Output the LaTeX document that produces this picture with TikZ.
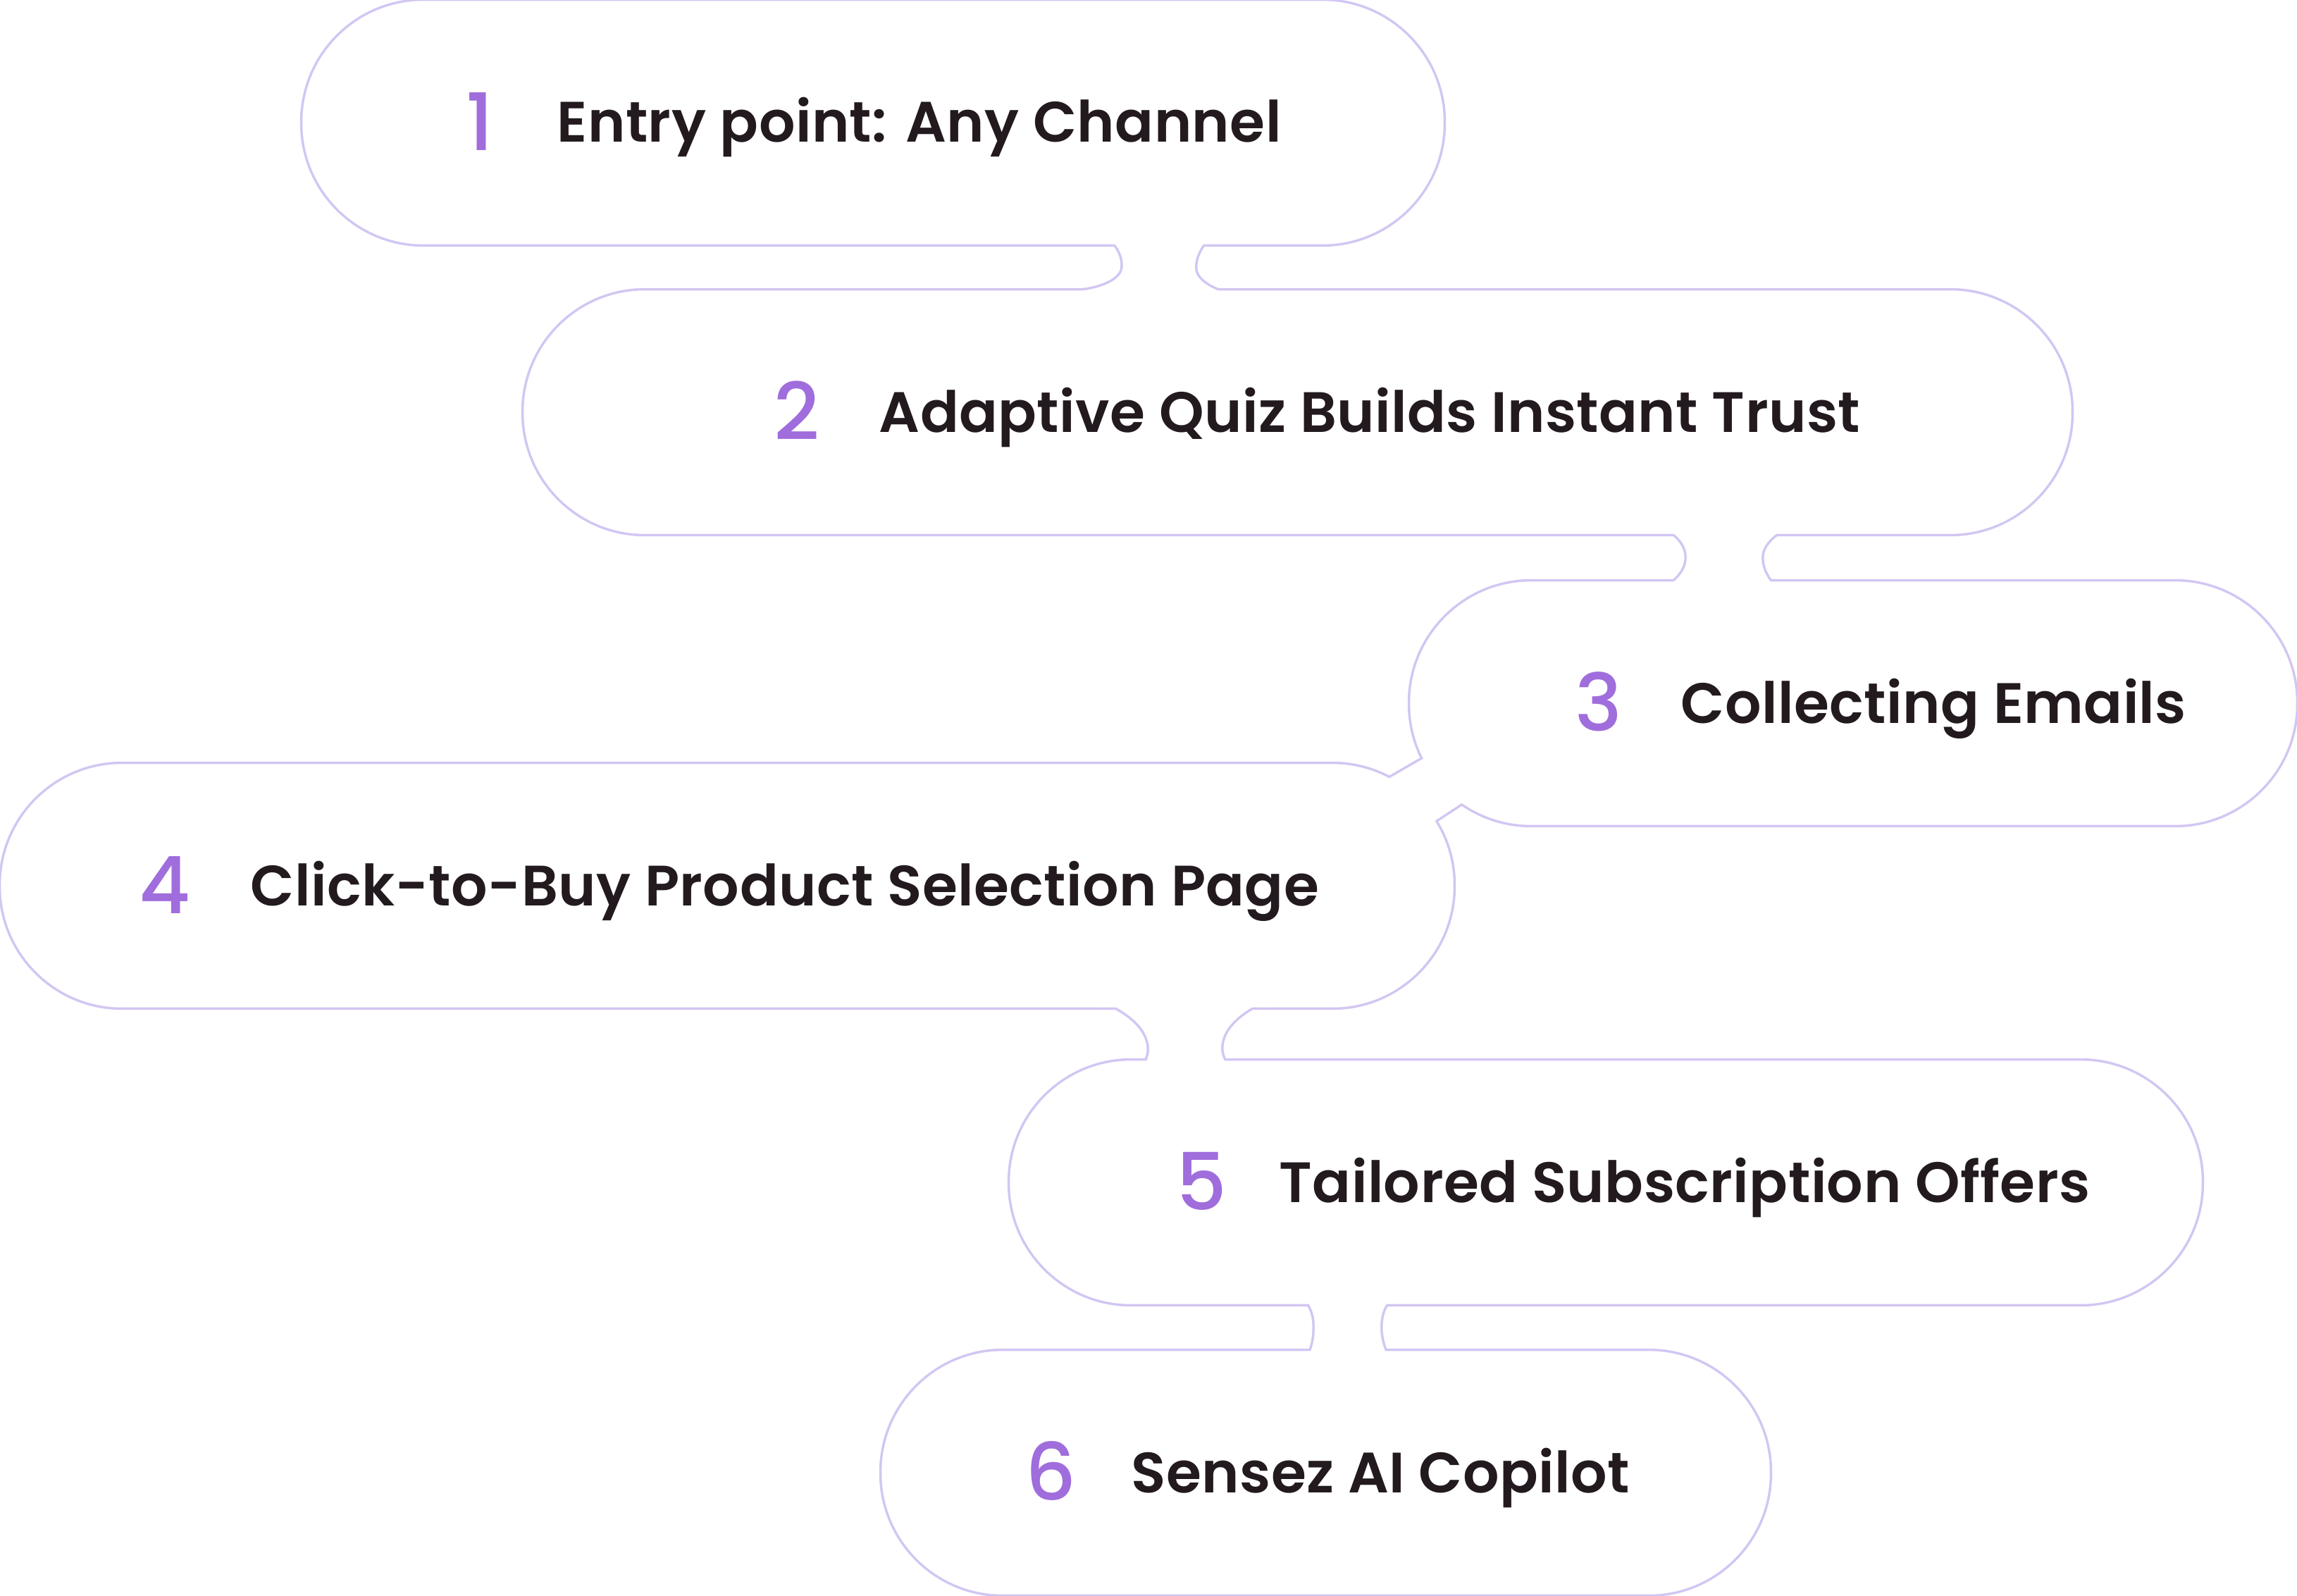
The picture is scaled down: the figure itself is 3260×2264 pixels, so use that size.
\documentclass[tikz,border=0pt]{standalone}
\usepackage{fontspec}
\setmainfont{Poppins}
\IfFontExistsTF{Poppins Medium}{\newfontfamily\numfont{Poppins Medium}}{\newfontfamily\numfont{Poppins}}
\IfFontExistsTF{Poppins SemiBold}{\newfontfamily\stepfont{Poppins SemiBold}[LetterSpace=0.6]}{\newfontfamily\stepfont{Poppins}[FakeBold=0.5]}
\definecolor{cRim}{HTML}{D2C6F3}
\definecolor{cNum}{HTML}{A06DDC}
\definecolor{cText}{HTML}{221A1E}
\pgfdeclarelayer{rim}
\pgfdeclarelayer{face}
\pgfsetlayers{rim,face,main}
\tikzset{
  pill/.style={rectangle, minimum height=34.4mm, inner sep=0pt},
  num/.style={anchor=west, inner sep=0pt, text height=7.9mm, text depth=0pt,
              font=\numfont\fontsize{32}{32}\selectfont, text=cNum},
  lbl/.style={anchor=west, inner sep=0pt, text height=5.6mm, text depth=0pt,
              font=\stepfont\fontsize{23}{24}\selectfont, text=cText},
  rimline/.style={draw=cRim, line width=2pt, line join=round},
  facefill/.style={fill=white}
}
% pills plus the necks between them; drawn twice (wide rim, then white face)
\newcommand{\pillshapes}[1]{%
  \foreach \p in {p1,p2,p3,p4,p5,p6}
    \path[#1, rounded corners=17.2mm] (\p.south west) rectangle (\p.north east);
  % neck 1-2
  \path[#1] (1560,346) -- (1582,346) .. controls (1590,355) and (1596,370) .. (1593,383)
    .. controls (1588,400) and (1560,410) .. (1532,413) -- (1510,413) -- (1510,440)
    -- (1755,440) -- (1755,413) -- (1730,413) .. controls (1712,406) and (1697,395) .. (1696,382)
    .. controls (1695,368) and (1701,356) .. (1708,346) -- (1730,346) -- (1730,320) -- (1560,320) -- cycle;
  % neck 2-3
  \path[#1] (2350,757) -- (2375,757) .. controls (2388,767) and (2394,779) .. (2394,791)
    .. controls (2394,804) and (2387,816) .. (2375,826) -- (2350,826) -- (2350,850)
    -- (2540,850) -- (2540,826) -- (2513,826) .. controls (2505,816) and (2500,804) .. (2500,791)
    .. controls (2500,779) and (2508,767) .. (2522,757) -- (2540,757) -- (2540,730) -- (2350,730) -- cycle;
  % neck 3-4
  \path[#1] (2023,1075) -- (1971,1105) -- (2036,1165) -- (2077,1138) -- cycle;
  % neck 4-5
  \path[#1] (1560,1429) -- (1583,1429) .. controls (1612,1445) and (1631,1465) .. (1631,1490)
    .. controls (1631,1496) and (1629,1501) .. (1627,1506) -- (1610,1506) -- (1610,1530)
    -- (1760,1530) -- (1760,1506) -- (1738,1506) .. controls (1735,1500) and (1733,1495) .. (1733,1488)
    .. controls (1733,1465) and (1750,1445) .. (1778,1429) -- (1800,1429) -- (1800,1400) -- (1560,1400) -- cycle;
  % neck 5-6
  \path[#1] (1835,1850) -- (1857,1850) .. controls (1864,1860) and (1866,1872) .. (1866,1884)
    .. controls (1866,1896) and (1864,1908) .. (1860,1918) -- (1835,1918) -- (1835,1945)
    -- (1990,1945) -- (1990,1918) -- (1966,1918) .. controls (1962,1908) and (1959,1896) .. (1959,1884)
    .. controls (1959,1872) and (1961,1860) .. (1968,1850) -- (1990,1850) -- (1990,1825) -- (1835,1825) -- cycle;
}

\begin{document}
\begin{tikzpicture}[x=0.1mm, y=-0.1mm]
\useasboundingbox (0,0) rectangle (3260,2264);
% pills
\node[pill, minimum width=161.8mm] (p1) at (1239,174) {};
\node[pill, minimum width=219.5mm] (p2) at (1841.5,585) {};
\node[pill, minimum width=125.6mm] (p3) at (2630,998) {};
\node[pill, minimum width=206mm] (p4) at (1032,1257) {};
\node[pill, minimum width=169mm] (p5) at (2279,1678) {};
\node[pill, minimum width=125.9mm] (p6) at (1881.5,2090) {};
% numbers and labels
\node[num] (n1) at (661,174) {1};
\node[lbl] (t1) at (790,174) {Entry point: Any Channel};
\node[num] (n2) at (1098,585) {2};
\node[lbl] (t2) at (1247,585) {Adaptive Quiz Builds Instant Trust};
\node[num] (n3) at (2235,998) {3};
\node[lbl] (t3) at (2385,998) {Collecting Emails};
\node[num] (n4) at (197,1257) {4};
\node[lbl] (t4) at (355,1257) {Click-to-Buy Product Selection Page};
\node[num] (n5) at (1669,1678) {5};
\node[lbl] (t5) at (1815,1678) {Tailored Subscription Offers};
\node[num] (n6) at (1455,2090) {6};
\node[lbl] (t6) at (1605,2090) {Sensez AI Copilot};
% outline of the whole chain
\begin{pgfonlayer}{rim}
  \pillshapes{rimline}
\end{pgfonlayer}
\begin{pgfonlayer}{face}
  \pillshapes{facefill}
\end{pgfonlayer}
\end{tikzpicture}
\end{document}
